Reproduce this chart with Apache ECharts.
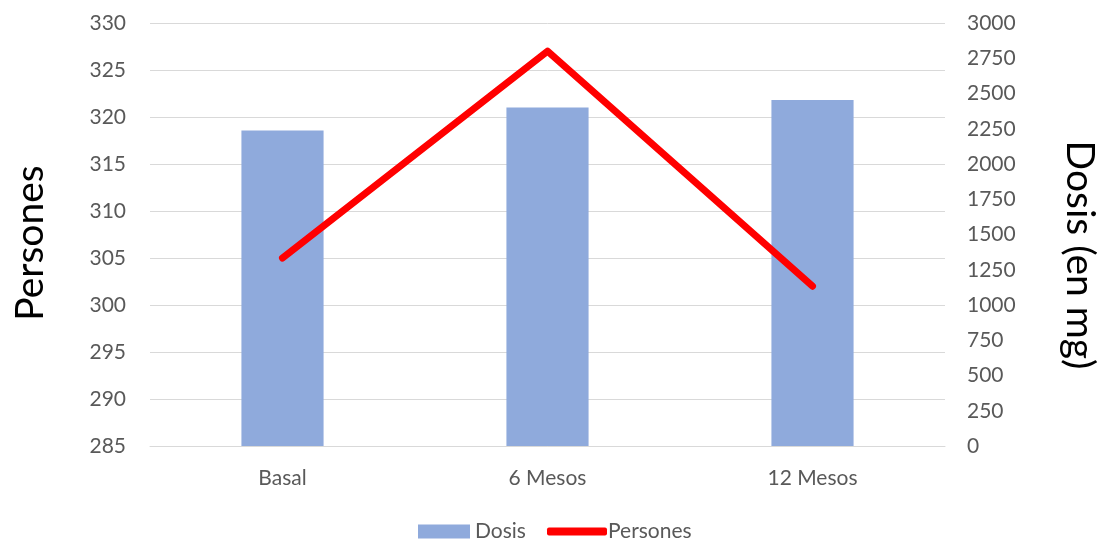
<!DOCTYPE html>
<html>
<head>
<meta charset="utf-8">
<script src="https://cdn.jsdelivr.net/npm/echarts@6/dist/echarts.min.js"></script>
<style>html,body{margin:0;padding:0;background:#fff}#c{width:1104px;height:540px}</style>
</head>
<body>
<div id="c"></div>
<script>
const categories = ['Basal', '6 Mesos', '12 Mesos'];
const dosis = [2237, 2400, 2454];
const persones = [305, 327, 302];
const leftTicks = { min: 285, max: 330, interval: 5 };
const rightTicks = { min: 0, max: 3000, interval: 250 };

const FONT = 'Lato';
const TXT = '#595959';
const chart = echarts.init(document.getElementById('c'));
chart.setOption({
  animation: false,
  backgroundColor: '#fff',
  textStyle: { fontFamily: FONT },
  grid: { left: 150, right: 159, top: 23, bottom: 94 },
  legend: [
    { data: ['Dosis'], left: 418, top: 521, padding: 0, itemWidth: 52, itemHeight: 14, icon: 'rect',
      textStyle: { fontSize: 21, color: TXT, fontFamily: FONT } },
    { data: [{ name: 'Persones', icon: 'roundRect', itemStyle: { color: '#FF0000' } }],
      left: 547, top: 521, padding: 0, itemWidth: 60, itemHeight: 8,
      textStyle: { fontSize: 21, color: TXT, fontFamily: FONT, padding: [0, 0, 0, -4] } }
  ],
  graphic: [
    { type: 'text', x: 30, y: 243, rotation: Math.PI / 2,
      style: { text: 'Persones', font: '39px ' + FONT, fill: '#000', align: 'center', verticalAlign: 'middle' } },
    { type: 'text', x: 1080, y: 255, rotation: -Math.PI / 2,
      style: { text: 'Dosis (en mg)', font: '39px ' + FONT, fill: '#000', align: 'center', verticalAlign: 'middle' } }
  ],
  xAxis: {
    type: 'category', data: categories,
    axisLine: { show: true, lineStyle: { color: '#D9D9D9', width: 1 } },
    axisTick: { show: false },
    axisLabel: { fontSize: 21, color: TXT, margin: 22, fontFamily: FONT }
  },
  yAxis: [
    { type: 'value', min: leftTicks.min, max: leftTicks.max, interval: leftTicks.interval,
      axisLine: { show: false }, axisTick: { show: false },
      axisLabel: { fontSize: 21, color: TXT, margin: 24, fontFamily: FONT },
      splitLine: { lineStyle: { color: '#D9D9D9', width: 1 } } },
    { type: 'value', min: rightTicks.min, max: rightTicks.max, interval: rightTicks.interval,
      position: 'right',
      axisLine: { show: false }, axisTick: { show: false },
      axisLabel: { fontSize: 21, color: TXT, margin: 22, fontFamily: FONT, formatter: v => String(v) },
      splitLine: { show: false } }
  ],
  series: [
    { name: 'Dosis', type: 'bar', yAxisIndex: 1, data: dosis, barWidth: '31%',
      itemStyle: { color: '#8FAADC' } },
    { name: 'Persones', type: 'line', yAxisIndex: 0, data: persones, symbol: 'none',
      lineStyle: { color: '#FF0000', width: 7, cap: 'round', join: 'round' },
      itemStyle: { color: '#FF0000' } }
  ]
});
</script>
</body>
</html>
